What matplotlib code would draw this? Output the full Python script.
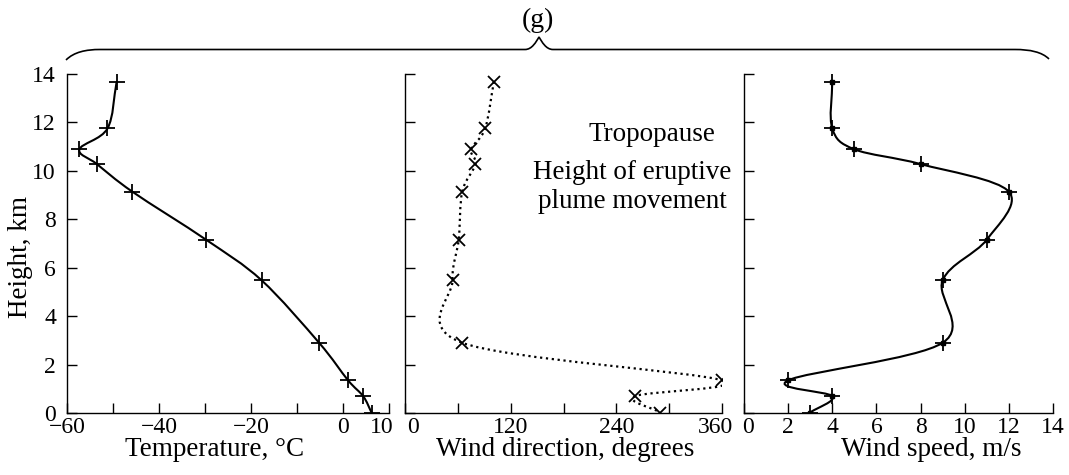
import numpy as np
import matplotlib
matplotlib.use("Agg")
import matplotlib.pyplot as plt
from matplotlib.path import Path
from matplotlib.patches import PathPatch
from matplotlib.transforms import ScaledTranslation

# ---- data ----
heights = [13.69, 11.75, 10.89, 10.28, 9.14, 7.16, 5.48, 2.90, 1.35, 0.69, 0.02]
temperature = [-49.2, -51.2, -57.3, -53.5, -45.8, -29.8, -17.7, -5.2, 1.1, 4.4, 6.2]
wind_dir = [101, 91, 75, 80, 65, 61, 54, 65, 360, 261, 290]
wind_speed = [4, 4, 5, 8, 12, 11, 9, 9, 2, 4, 3]

height_ticks = [0, 2, 4, 6, 8, 10, 12, 14]
temp_ticks = [-60, -50, -40, -30, -20, -10, 0, 10]
temp_labels = ["\u221260", "", "\u221240", "", "\u221220", "", "0", "10"]
dir_ticks = [0, 60, 120, 180, 240, 300, 360]
dir_labels = ["0", "", "120", "", "240", "", "360"]
speed_ticks = [0, 2, 4, 6, 8, 10, 12, 14]

plt.rcParams["font.family"] = ["Liberation Serif", "DejaVu Serif"]
plt.rcParams["font.size"] = 19.5
plt.rcParams["axes.linewidth"] = 1.0

W, H = 1069, 475
fig = plt.figure(figsize=(W / 100, H / 100), dpi=100)


def px_axes(left, right, bottom, top):
    return fig.add_axes([left / W, 1 - bottom / H, (right - left) / W, (bottom - top) / H])


def smooth_path(xs, ys):
    # Catmull-Rom curve through the points, drawn as cubic Bezier pieces
    pts = np.column_stack([xs, ys]).astype(float)
    ext = np.vstack([2 * pts[0] - pts[1], pts, 2 * pts[-1] - pts[-2]])
    verts = [pts[0]]
    codes = [Path.MOVETO]
    for i in range(len(pts) - 1):
        p0, p1, p2, p3 = ext[i], ext[i + 1], ext[i + 2], ext[i + 3]
        verts += [p1 + (p2 - p0) / 6, p2 - (p3 - p1) / 6, p2]
        codes += [Path.CURVE4] * 3
    return Path(verts, codes)


def style(ax, xlim, xticks, xlabels, show_y):
    ax.set_xlim(*xlim)
    ax.set_ylim(0, 14)
    for s in ("top", "right"):
        ax.spines[s].set_visible(False)
    ax.set_xticks(xticks, xlabels)
    ax.set_yticks(height_ticks, [str(t) for t in height_ticks] if show_y else [])
    ax.tick_params(direction="in", length=7, width=1.0, pad=3, labelsize=17)
    ax.tick_params(axis="y", pad=8)


def shift_label(lbl, dx):
    lbl.set_transform(lbl.get_transform() + ScaledTranslation(dx / 100, 0, fig.dpi_scale_trans))


ax1 = px_axes(67, 389, 413, 74)
ax2 = px_axes(405, 722, 413, 74)
ax3 = px_axes(744, 1053, 413, 74)

# temperature
style(ax1, (-60, 10), temp_ticks, temp_labels, True)
ax1.add_patch(PathPatch(smooth_path(temperature, heights), fill=False, lw=1.5, color="black"))
ax1.plot(temperature, heights, ls="none", marker="+", ms=12, mew=1.3, color="black")
ax1.set_ylabel("Height, km")
ax1.yaxis.set_label_coords(-0.105, 0.46)
ax1.set_xlabel("Temperature, \u00b0C")
ax1.xaxis.set_label_coords(0.457, -0.072)
shift_label(ax1.get_xticklabels()[-1], -7)

# wind direction
style(ax2, (0, 360), dir_ticks, dir_labels, False)
ax2.add_patch(PathPatch(smooth_path(wind_dir, heights), fill=False, lw=1.6, ls=":", color="black"))
ax2.plot(wind_dir, heights, ls="none", marker="x", ms=8, mew=1.3, color="black")
ax2.set_xlabel("Wind direction, degrees")
ax2.xaxis.set_label_coords(0.505, -0.072)
ax2.text(280, 11.5, "Tropopause", ha="center", va="center")
ax2.text(258, 9.95, "Height of eruptive", ha="center", va="center")
ax2.text(258, 8.72, "plume movement", ha="center", va="center")
shift_label(ax2.get_xticklabels()[0], 8)
shift_label(ax2.get_xticklabels()[-1], -7)

# wind speed
style(ax3, (0, 14), speed_ticks, [str(t) for t in speed_ticks], False)
ax3.add_patch(PathPatch(smooth_path(wind_speed, heights), fill=False, lw=1.5, color="black"))
ax3.plot(wind_speed, heights, ls="none", marker="+", ms=12, mew=1.3, color="black")
ax3.plot(wind_speed, heights, ls="none", marker="s", ms=3.5, color="black")
ax3.set_xlabel("Wind speed, m/s")
ax3.xaxis.set_label_coords(0.605, -0.072)
shift_label(ax3.get_xticklabels()[0], 4)

# brace over the three panels, in pixel coords
bv = [(66, 60), (74, 52), (86, 49.5), (100, 49.5),
      (525, 49.5),
      (532, 49.5), (536, 42), (539, 37),
      (542, 42), (546, 49.5), (553, 49.5),
      (1015, 49.5),
      (1030, 49.5), (1042, 52), (1049, 59)]
bc = [Path.MOVETO, Path.CURVE4, Path.CURVE4, Path.CURVE4,
      Path.LINETO,
      Path.CURVE4, Path.CURVE4, Path.CURVE4,
      Path.CURVE4, Path.CURVE4, Path.CURVE4,
      Path.LINETO,
      Path.CURVE4, Path.CURVE4, Path.CURVE4]
bv = [(x / W, 1 - y / H) for x, y in bv]
fig.add_artist(PathPatch(Path(bv, bc), fill=False, lw=1.2, color="black", transform=fig.transFigure))
fig.text(538 / W, 1 - 20 / H, "(g)", ha="center", va="center", fontsize=20)

fig.savefig("out.png", dpi=100)
